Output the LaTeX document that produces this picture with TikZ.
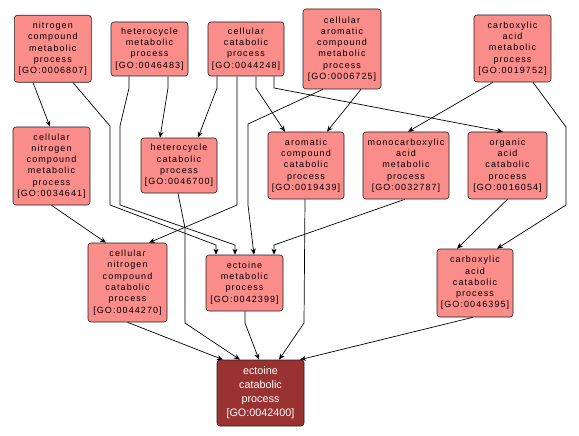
\documentclass[tikz,border=0pt]{standalone}
\usepackage{fontspec}
\usetikzlibrary{arrows.meta}
\newfontfamily\gofont[LetterSpace=12]{Liberation Sans}
\newfontfamily\botfont{Liberation Sans}
\definecolor{pinkfill}{HTML}{FA8C8A}
\definecolor{darkfill}{HTML}{9B3232}
\definecolor{bordercol}{HTML}{202020}
\tikzset{
  gonode/.style={draw=bordercol, line width=0.6pt, rounded corners=3pt, fill=pinkfill,
    inner sep=0pt, align=center, text=black, font=\gofont\fontsize{9}{11.3}\selectfont},
  botnode/.style={draw=bordercol, line width=0.6pt, rounded corners=3pt, fill=darkfill,
    inner sep=0pt, align=center, text=white, font=\botfont\fontsize{10.8}{14}\selectfont},
  edge/.style={draw=black, line width=0.7pt, -{Stealth[length=6pt,width=5pt]}}
}
\begin{document}
\begin{tikzpicture}[x=1pt,y=-1pt]
\useasboundingbox[fill=white] (0,0) rectangle (579,436);
% nodes
\node[gonode, minimum width=77pt, minimum height=67pt] (n6807) at (52.8,48.8) {nitrogen\\compound\\metabolic\\process\\{}[GO:0006807]};
\node[gonode, minimum width=77pt, minimum height=54pt] (n46483) at (149.5,49) {heterocycle\\metabolic\\process\\{}[GO:0046483]};
\node[gonode, minimum width=76pt, minimum height=54pt] (n44248) at (246,49) {cellular\\catabolic\\process\\{}[GO:0044248]};
\node[gonode, minimum width=78pt, minimum height=80pt] (n6725) at (342,49) {cellular\\aromatic\\compound\\metabolic\\process\\{}[GO:0006725]};
\node[gonode, minimum width=77pt, minimum height=67pt] (n19752) at (512.5,48.5) {carboxylic\\acid\\metabolic\\process\\{}[GO:0019752]};
\node[gonode, minimum width=77pt, minimum height=78pt] (n34641) at (51.5,166) {cellular\\nitrogen\\compound\\metabolic\\process\\{}[GO:0034641]};
\node[gonode, minimum width=76pt, minimum height=55pt] (n46700) at (179,165.5) {heterocycle\\catabolic\\process\\{}[GO:0046700]};
\node[gonode, minimum width=76pt, minimum height=67pt] (n19439) at (306,165.5) {aromatic\\compound\\catabolic\\process\\{}[GO:0019439]};
\node[gonode, minimum width=86pt, minimum height=67pt] (n32787) at (406,165.5) {monocarboxylic\\acid\\metabolic\\process\\{}[GO:0032787]};
\node[gonode, minimum width=79pt, minimum height=67pt] (n16054) at (507.5,165.5) {organic\\acid\\catabolic\\process\\{}[GO:0016054]};
\node[gonode, minimum width=79pt, minimum height=79pt] (n44270) at (127.5,282.5) {cellular\\nitrogen\\compound\\catabolic\\process\\{}[GO:0044270]};
\node[gonode, minimum width=77pt, minimum height=56pt] (n42399) at (244.5,283) {ectoine\\metabolic\\process\\{}[GO:0042399]};
\node[gonode, minimum width=76pt, minimum height=68pt] (n46395) at (475,283) {carboxylic\\acid\\catabolic\\process\\{}[GO:0046395]};
\node[botnode, minimum width=87pt, minimum height=66pt] (n42400) at (260.5,393) {ectoine\\catabolic\\process\\{}[GO:0042400]};
% edges
\draw[edge] ([xshift=-19.8pt]n6807.south) -- ([xshift=-1.5pt]n34641.north);
\draw[edge] ([xshift=20.2pt]n6807.south) -- (110,126) -- (110,205) -- (216,245) -- ([xshift=-28.5pt]n42399.north);
\draw[edge] ([xshift=-20.5pt]n46483.south) -- (129,88) -- (120,126) -- (120,205) -- (235,245) -- ([xshift=-9.5pt]n42399.north);
\draw[edge] ([xshift=18.5pt]n46483.south) -- (168,88) -- ([xshift=-19pt]n46700.north);
\draw[edge] ([xshift=-29pt]n44248.south) -- (217,88) -- ([xshift=19pt]n46700.north);
\draw[edge] ([xshift=-9pt]n44248.south) -- (237,205) -- ([xshift=21.5pt]n44270.north);
\draw[edge] ([xshift=10pt]n44248.south) -- (256,88) -- ([xshift=-21pt]n19439.north);
\draw[edge] ([xshift=28pt]n44248.south) -- (274,88) -- ([xshift=-4.5pt]n16054.north);
\draw[edge] ([xshift=-19pt]n6725.south) -- (248,124) -- (248,205) -- ([xshift=9.5pt]n42399.north);
\draw[edge] ([xshift=19pt]n6725.south) -- ([xshift=21pt]n19439.north);
\draw[edge] ([xshift=-19.5pt]n19752.south) -- ([xshift=2pt]n32787.north);
\draw[edge] ([xshift=20.5pt]n19752.south) -- (566,127) -- (566,205) -- ([xshift=22pt]n46395.north);
\draw[edge] (n16054.south) -- ([xshift=-18pt]n46395.north);
\draw[edge] ([xshift=-1pt]n32787.south) -- (274,245) -- ([xshift=29.5pt]n42399.north);
\draw[edge] (n34641.south) -- ([xshift=-21.5pt]n44270.north);
\draw[edge] ([xshift=-1pt]n19439.south) -- (304,323) -- ([xshift=18.5pt]n42400.north);
\draw[edge] ([xshift=-1pt]n46700.south) -- (185,228) -- (185,323) -- ([xshift=-20.5pt]n42400.north);
\draw[edge] (n44270.south) -- ([xshift=-37.5pt]n42400.north);
\draw[edge] ([xshift=0.5pt]n42399.south) -- (245,323) -- ([xshift=-1.5pt]n42400.north);
\draw[edge] ([xshift=-2pt]n46395.south) -- ([xshift=39.5pt]n42400.north);
\end{tikzpicture}
\end{document}
